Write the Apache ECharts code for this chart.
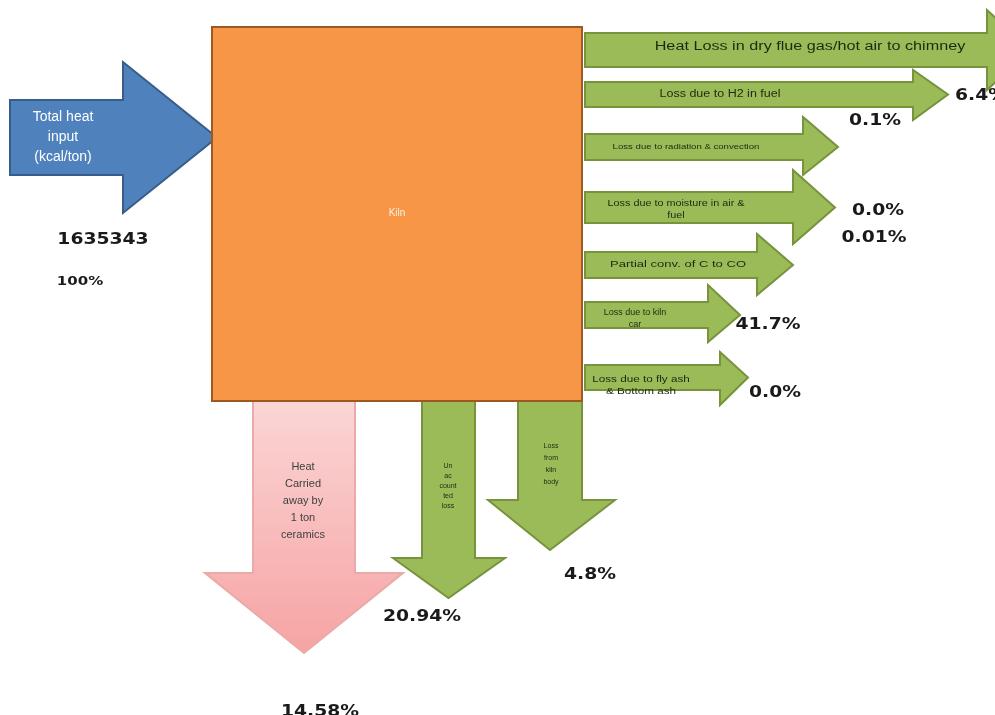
<!DOCTYPE html>
<html>
<head>
<meta charset="utf-8">
<script src="https://cdn.jsdelivr.net/npm/echarts@6/dist/echarts.min.js"></script>
<style>html,body{margin:0;padding:0;background:#fff}#c{width:995px;height:715px}</style>
</head>
<body>
<div id="c"></div>
<script>
// ---- content (names and values) ----
const inputName = ['Total heat', 'input', '(kcal/ton)'];
const inputValue = '1635343';
const inputShare = '100%';
const processName = 'Kiln';
const sideLossNames = [
  ['Heat Loss in dry flue gas/hot air to chimney'],
  ['Loss due to H2 in fuel'],
  ['Loss due to radiation & convection'],
  ['Loss due to moisture in air &', 'fuel'],
  ['Partial conv. of C to CO'],
  ['Loss due to kiln', 'car'],
  ['Loss due to fly ash', '& Bottom ash']
];
const bottomLossNames = [
  ['Heat', 'Carried', 'away by', '1 ton', 'ceramics'],
  ['Un', 'ac', 'count', 'ted', 'loss'],
  ['Loss', 'from', 'kiln', 'body']
];
const shareLabels = ['6.4%', '0.1%', '0.0%', '0.01%', '41.7%', '0.0%', '4.8%', '20.94%', '14.58%'];

// ---- layout (diagram positions, in axis units) ----
// right-pointing arrows: [x0, bodyTop, bodyBottom, headX, headTop, headBottom, tipX]
const rightArrowLayout = [
  [585, 33, 67, 987, 10, 90, 1030],
  [585, 82, 107, 913, 70, 120, 948],
  [585, 134, 160, 803, 117, 175, 838],
  [585, 192, 223, 793, 170, 244, 835],
  [585, 252, 278, 757, 234, 295, 793],
  [585, 302, 328, 708, 285, 342, 740],
  [585, 365, 390, 720, 352, 405, 748]
];
const inputArrowLayout = [10, 100, 175, 123, 62, 213, 217];
// down-pointing arrows: [xLeft, xRight, y0, headY, headLeft, headRight, tipY]
const downArrowLayout = [
  [253, 355, 398, 573, 205, 403, 653],
  [422, 475, 398, 558, 393, 505, 598],
  [518, 582, 398, 500, 488, 615, 550]
];
const kilnLayout = [212, 27, 582, 401];
// [x, y, fontSize, horizontal stretch]
const sideTextStyle = [[810, 47, 12, 1.35], [720, 94, 10, 1.25], [686, 147, 8, 1.2], [676, 204, 9, 1.2],
  [678, 265, 9, 1.45], [635, 313, 9, 1.0], [641, 380, 9, 1.3]];
const bottomTextPos = [[303, 467, 17], [448, 466, 10], [551, 446, 12]];
const bottomTextSize = [11, 7, 7];
const sharePos = [[955, 96, 'left'], [875, 121, 'center'], [878, 211, 'center'], [874, 238, 'center'],
  [768, 325, 'center'], [775, 393, 'center'], [590, 575, 'center'], [422, 617, 'center'], [320, 712, 'center']];

const chart = echarts.init(document.getElementById('c'), null, {renderer: 'canvas'});

function pts(api, arr) { return arr.map(p => api.coord(p)); }

function rightArrow(api, L) {
  const [x0, t, b, hx, ht, hb, tip] = L;
  const yc = (t + b) / 2;
  return pts(api, [[x0, t], [hx, t], [hx, ht], [tip, yc], [hx, hb], [hx, b], [x0, b]]);
}
function downArrow(api, L) {
  const [xl, xr, y0, hy, hl, hr, tip] = L;
  const xc = (xl + xr) / 2;
  return pts(api, [[xl, y0], [xr, y0], [xr, hy], [hr, hy], [xc, tip], [hl, hy], [xl, hy]]);
}
function textLines(api, lines, x, y, dy, size, color, sx) {
  return lines.map((s, i) => {
    const p = api.coord([x, y + i * dy]);
    return {type: 'text', x: p[0], y: p[1], scaleX: sx || 1,
      style: {text: s, fill: color, fontSize: size,
      fontFamily: 'Liberation Sans', align: 'center', verticalAlign: 'middle'}};
  });
}

const shapes = [];
downArrowLayout.forEach((L, i) => shapes.push({kind: 'down', i}));
rightArrowLayout.forEach((L, i) => shapes.push({kind: 'right', i}));
shapes.push({kind: 'input'});
shapes.push({kind: 'kiln'});

const green = '#9BBB59', greenEdge = '#77933C';

function renderShape(params, api) {
  const s = shapes[params.dataIndex];
  const children = [];
  if (s.kind === 'right') {
    children.push({type: 'polygon', shape: {points: rightArrow(api, rightArrowLayout[s.i])},
      style: {fill: green, stroke: greenEdge, lineWidth: 2}});
    const tp = sideTextStyle[s.i];
    children.push(...textLines(api, sideLossNames[s.i], tp[0], tp[1], 12, tp[2], '#1e2a10', tp[3]));
  } else if (s.kind === 'down') {
    const L = downArrowLayout[s.i];
    let fill = green, stroke = greenEdge, col = '#1e2a10';
    if (s.i === 0) {
      fill = new echarts.graphic.LinearGradient(0, 0, 0, 1, [{offset: 0, color: '#FBD6D6'}, {offset: 1, color: '#F6A3A3'}]);
      stroke = '#EBA9A9'; col = '#404040';
    }
    children.push({type: 'polygon', shape: {points: downArrow(api, L)}, style: {fill, stroke, lineWidth: 2}});
    const tp = bottomTextPos[s.i];
    children.push(...textLines(api, bottomLossNames[s.i], tp[0], tp[1], tp[2], bottomTextSize[s.i], col));
  } else if (s.kind === 'input') {
    children.push({type: 'polygon', shape: {points: rightArrow(api, inputArrowLayout)},
      style: {fill: '#4F81BD', stroke: '#385D8A', lineWidth: 2}});
    children.push(...textLines(api, inputName, 63, 117, 20, 14, '#ffffff'));
  } else if (s.kind === 'kiln') {
    const a = api.coord([kilnLayout[0], kilnLayout[1]]);
    const b = api.coord([kilnLayout[2], kilnLayout[3]]);
    children.push({type: 'rect', shape: {x: a[0], y: a[1], width: b[0] - a[0], height: b[1] - a[1]},
      style: {fill: '#F79646', stroke: '#9C5A22', lineWidth: 2}});
    children.push(...textLines(api, [processName], (kilnLayout[0] + kilnLayout[2]) / 2, 213, 0, 10, '#FFF2E0'));
  }
  return {type: 'group', children};
}

function renderLabel(params, api) {
  const i = params.dataIndex;
  const list = shareLabels.concat([inputValue, inputShare]);
  const pos = sharePos.concat([[103, 240, 'center'], [80, 282, 'center']]);
  const p = api.coord([pos[i][0], pos[i][1]]);
  return {type: 'text', x: p[0], y: p[1], scaleX: 1.25,
    style: {text: list[i], fill: '#1a1a1a', fontSize: i === shareLabels.length + 1 ? 12 : 15,
      fontWeight: 'bold', fontFamily: 'DejaVu Sans', align: pos[i][2], verticalAlign: 'middle'}};
}

chart.setOption({
  animation: false,
  backgroundColor: '#ffffff',
  grid: {left: 0, right: 0, top: 0, bottom: 0},
  xAxis: {type: 'value', min: 0, max: 995, show: false},
  yAxis: {type: 'value', min: 0, max: 715, inverse: true, show: false},
  series: [
    {type: 'custom', renderItem: renderShape, data: shapes.map((s, i) => [i]), clip: false, silent: true},
    {type: 'custom', renderItem: renderLabel, data: shareLabels.concat([inputValue, inputShare]).map((s, i) => [i]), clip: false, silent: true}
  ]
});
</script>
</body>
</html>
